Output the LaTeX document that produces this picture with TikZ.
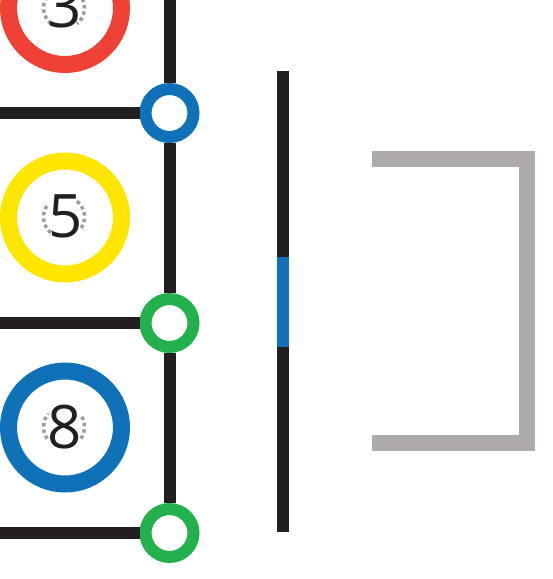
\documentclass[tikz,border=0pt]{standalone}
\usepackage{fontspec}
\setmainfont{Open Sans}
\definecolor{blk}{HTML}{231F20}
\definecolor{bl}{HTML}{0F71B8}
\definecolor{gr}{HTML}{22B14C}
\definecolor{rd}{HTML}{EF4136}
\definecolor{yl}{HTML}{FFE600}
\definecolor{gy}{HTML}{ADAAA9}
\definecolor{dg}{HTML}{9D9D9D}
\tikzset{
  track/.style={draw=blk, line width=12pt},
  station/.style={circle, draw=#1, line width=12pt, fill=white, minimum size=48pt, inner sep=0pt},
  bigring/.style={circle, draw=#1, line width=17pt, fill=white, minimum size=113pt, inner sep=0pt},
  dotring/.style={draw=dg, line width=3.5pt, dash pattern=on 3.5pt off 3pt},
  digit/.style={inner sep=0pt, text=blk, font=\fontsize{60}{60}\selectfont},
  bracket/.style={draw=gy, line width=16pt, miter limit=10}
}
\begin{document}
\begin{tikzpicture}[x=1pt,y=-1pt]
\useasboundingbox (0,0) rectangle (553,579);
% stations
\node[station=bl] (s1) at (169.5,113) {};
\node[station=gr] (s2) at (169.5,323) {};
\node[station=gr] (s3) at (169.5,533) {};
\coordinate (top) at (169.5,0);
\coordinate (h1) at (0,113);
\coordinate (h2) at (0,323);
\coordinate (h3) at (0,533);
\draw[track] (top) -- (s1);
\draw[track] (s1) -- (s2);
\draw[track] (s2) -- (s3);
\draw[track] (h1) -- (s1);
\draw[track] (h2) -- (s2);
\draw[track] (h3) -- (s3);
% big rings
\node[bigring=rd] (b3) at (65,8) {};
\node[bigring=yl] (b5) at (65,217.5) {};
\node[bigring=bl] (b8) at (65,427.5) {};
% dotted rings (parts not hidden by the digits)
\draw[dotring, shift={(64,8)}] (130:20.5) arc[start angle=130, end angle=225, radius=20.5];
\draw[dotring, shift={(64,8)}] (-45:20.5) arc[start angle=-45, end angle=50, radius=20.5];
\draw[dotring, shift={(64,217)}] (130:20.5) arc[start angle=130, end angle=220, radius=20.5];
\draw[dotring, shift={(64,217)}] (-50:20.5) arc[start angle=-50, end angle=40, radius=20.5];
\draw[dotring, shift={(64,427)}] (145:20.5) arc[start angle=145, end angle=220, radius=20.5];
\draw[dotring, shift={(64,427)}] (-30:20.5) arc[start angle=-30, end angle=40, radius=20.5];
\node[digit] (d3) at (65,6.5) {3};
\node[digit] (d5) at (65.5,216.5) {5};
\node[digit] (d8) at (64.5,427) {8};
% vertical bar
\coordinate (vt) at (283,70.7);
\coordinate (vb) at (283,532);
\coordinate (bt) at (283,256.7);
\coordinate (bb) at (283,346.7);
\draw[track] (vt) -- (vb);
\draw[draw=bl, line width=12pt] (bt) -- (bb);
% bracket
\coordinate (k1) at (372,159);
\coordinate (k2) at (527,159);
\coordinate (k3) at (527,443);
\coordinate (k4) at (372,443);
\draw[bracket] (k1) -- (k2) -- (k3) -- (k4);
\end{tikzpicture}
\end{document}
